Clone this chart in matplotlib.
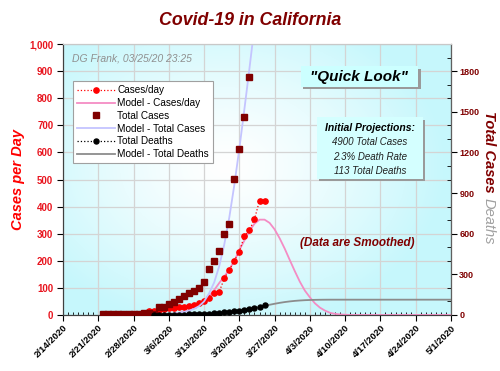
import numpy as np
import pandas as pd
import matplotlib
matplotlib.use("Agg")
import matplotlib.pyplot as plt
import matplotlib.dates as mdates
from matplotlib.ticker import MultipleLocator, FuncFormatter
from matplotlib.lines import Line2D
from matplotlib.patches import Rectangle
from matplotlib.transforms import offset_copy

plt.rcParams['font.family'] = ['Liberation Sans', 'DejaVu Sans']

# donnees
cases_dates = pd.date_range('2020-02-22', '2020-03-22')
total_cases = [5, 5, 6, 6, 7, 8, 9, 10, 11, 12, 10,
               57, 61, 79, 96, 116, 140, 160, 179, 201, 246, 337, 398, 470,
               600, 673, 1007, 1224, 1462, 1754]

perday_dates = pd.date_range('2020-03-02', '2020-03-25')
cases_per_day = [15, 14, 20, 22, 25, 27, 30, 31, 33, 38, 43, 53, 62, 82, 85,
                 135, 166, 200, 234, 292, 313, 354, 422, 422]

deaths_dates = pd.date_range('2020-03-03', '2020-03-25')
total_deaths = [1, 1, 1, 1, 1, 2, 3, 4, 4, 5, 7, 10, 12, 15, 20, 23, 27, 32,
                39, 45, 52, 60, 72]

# modeles
model_dates = pd.date_range('2020-03-03', '2020-05-01')
model_per_day = [1, 2, 3, 4, 5, 8, 12, 18, 26, 38, 52, 70, 92, 118, 142, 168,
                 200, 240, 275, 310, 337, 352, 352, 340, 316, 283, 245, 203,
                 162, 123, 90, 65, 43, 27, 16, 8, 4, 2, 1] + [0] * 21
model_deaths = [0, 0, 0, 0, 0.4, 0.5, 0.8, 1.3, 1.9, 2.8, 4.0, 5.7, 7.9, 10.7,
                14.1, 18.1, 22.8, 28.5, 35.1, 42.5, 50.5, 58.9, 67.2, 75.3,
                82.8, 89.6, 95.4, 100.2, 104.1, 107.0, 109.2, 110.7, 111.7,
                112.4, 112.8] + [113] * 25
model_cases_dates = pd.date_range('2020-03-03', '2020-03-23')
model_cases = [1, 2, 4, 6, 10, 15, 22, 32, 45, 65, 100, 160, 240, 360, 520,
               720, 960, 1230, 1520, 1820, 2130]

RED = '#ff0000'
DARKRED = '#800000'
PINK = '#f48cc4'
LAVENDER = '#c4c4ff'
GRAY = '#8c8c8c'

fig = plt.figure(figsize=(5, 3.71), dpi=100)
ax = fig.add_axes([0.126, 0.151, 0.776, 0.730])
ax2 = ax.twinx()

# fond en degrade
ny, nx = 200, 300
yy, xx = np.mgrid[0:1:ny * 1j, 0:1:nx * 1j]
r = np.sqrt(((xx - 0.42) / 0.75) ** 2 + ((yy - 0.55) / 0.8) ** 2)
t = np.clip(r / 0.75, 0, 1) ** 1.3
white = np.array([1.0, 1.0, 1.0])
cyan = np.array([0.78, 0.97, 0.99])
img = white[None, None, :] * (1 - t[..., None]) + cyan[None, None, :] * t[..., None]
ax.imshow(img, extent=[0, 1, 0, 1], transform=ax.transAxes, aspect='auto',
          origin='lower', zorder=0)

x0 = pd.Timestamp('2020-02-14')
x1 = pd.Timestamp('2020-05-01')
ax.set_xlim(x0, x1)
ax.set_ylim(0, 1000)
ax2.set_ylim(0, 2000)

ax.grid(True, color='#d4d4d4', linewidth=0.9, zorder=1)
ax.set_axisbelow(True)

# serie jour (axe gauche)
ax.plot(model_dates, model_per_day, color=PINK, linewidth=1.3, zorder=3)
ax.plot(perday_dates, cases_per_day, color=RED, linestyle=':', linewidth=0.9,
        marker='o', markersize=3.8, zorder=4)

# cumuls (axe droit)
ax2.plot(model_cases_dates, model_cases, color=LAVENDER, linewidth=1.3, zorder=2)
ax2.plot(model_dates, model_deaths, color=GRAY, linewidth=1.3, zorder=2)
ax2.plot(cases_dates, total_cases, color=DARKRED, linestyle='none',
         marker='s', markersize=4.6, zorder=3)
ax2.plot(deaths_dates, total_deaths, color='black', linestyle=':', linewidth=0.9,
         marker='o', markersize=3.6, zorder=4)

# axes
ticks = pd.date_range(x0, x1, freq='7D')
ax.set_xticks(ticks)
ax.set_xticklabels([f"{d.month}/{d.day}/{d.year}" for d in ticks],
                   rotation=45, ha='right', rotation_mode='anchor',
                   fontsize=6.8, fontweight='bold')
ax.xaxis.set_minor_locator(mdates.DayLocator())
ax.tick_params(axis='x', which='major', direction='out', length=4, pad=2)
ax.tick_params(axis='x', which='minor', direction='in', length=2.5)

ax.yaxis.set_major_locator(MultipleLocator(100))
ax.yaxis.set_major_formatter(FuncFormatter(lambda v, p: f"{int(v):,}"))
ax.tick_params(axis='y', direction='out', length=4, labelsize=7,
               labelcolor='#e8141e', pad=3)
for lab in ax.get_yticklabels():
    lab.set_fontweight('bold')

ax2.yaxis.set_major_locator(MultipleLocator(300))
ax2.yaxis.set_minor_locator(MultipleLocator(100))
ax2.tick_params(axis='y', which='major', direction='out', length=4,
                labelsize=6.5, labelcolor=DARKRED, pad=2)
ax2.tick_params(axis='y', which='minor', direction='in', length=3)
for lab in ax2.get_yticklabels():
    lab.set_fontweight('bold')

for sp in ['left', 'bottom']:
    ax.spines[sp].set_color('#404040')
ax.spines['top'].set_color('#c8c8c8')
ax2.spines['top'].set_color('#c8c8c8')
ax2.spines['right'].set_color('#606060')
ax2.spines['left'].set_color('#404040')
ax2.spines['bottom'].set_color('#404040')

# titres
fig.text(0.5, 0.946, 'Covid-19 in California', ha='center', va='center',
         fontsize=12.8, fontweight='bold', style='italic', color=DARKRED)
fig.text(0.036, 0.515, 'Cases per Day', ha='center', va='center', rotation=90,
         fontsize=10.5, fontweight='bold', style='italic', color=RED)
fig.text(0.978, 0.590, 'Total Cases', ha='center', va='center', rotation=-90,
         fontsize=10.5, fontweight='bold', style='italic', color=DARKRED)
fig.text(0.978, 0.403, 'Deaths', ha='center', va='center', rotation=-90,
         fontsize=10.5, style='italic', color='#a0a0a0')

# legende
handles = [
    Line2D([], [], color=RED, linestyle=':', marker='o', markersize=3.8, linewidth=0.9),
    Line2D([], [], color=PINK, linewidth=1.3),
    Line2D([], [], color=DARKRED, linestyle='none', marker='s', markersize=4.6),
    Line2D([], [], color=LAVENDER, linewidth=1.3),
    Line2D([], [], color='black', linestyle=':', marker='o', markersize=3.6, linewidth=0.9),
    Line2D([], [], color=GRAY, linewidth=1.3),
]
labels = ['Cases/day', 'Model - Cases/day', 'Total Cases', 'Model - Total Cases',
          'Total Deaths', 'Model - Total Deaths']
leg = ax2.legend(handles, labels, loc='upper left', bbox_to_anchor=(0.026, 0.863),
                 borderaxespad=0, fontsize=7.2, handlelength=3.8, handletextpad=0.2,
                 labelspacing=0.28, fancybox=False, framealpha=1,
                 edgecolor='#a0a0a0', borderpad=0.4)
leg.get_frame().set_linewidth(0.8)
leg.set_zorder(10)

# annotations
ax2.text(0.023, 0.948, 'DG Frank, 03/25/20 23:25', transform=ax2.transAxes,
         ha='left', va='center', fontsize=7.5, style='italic', color='#909090')

# boites avec ombre
shadow = offset_copy(ax2.transAxes, fig=fig, x=2.5, y=-2.5, units='dots')
for (bx, by, bw, bh, fc) in [(0.613, 0.842, 0.303, 0.077, '#ccffff'),
                             (0.654, 0.503, 0.273, 0.227, '#d4ffff')]:
    ax2.add_patch(Rectangle((bx, by), bw, bh, transform=shadow,
                            facecolor='#9a9a9a', edgecolor='none', zorder=8))
    ax2.add_patch(Rectangle((bx, by), bw, bh, transform=ax2.transAxes,
                            facecolor=fc, edgecolor='none', zorder=9))

ax2.text(0.764, 0.880, '"Quick Look"', transform=ax2.transAxes, ha='center',
         va='center', fontsize=11, fontweight='bold', style='italic',
         color='black', zorder=10)

ax2.text(0.791, 0.690, 'Initial Projections:', transform=ax2.transAxes,
         ha='center', va='center', fontsize=7.5, fontweight='bold',
         style='italic', color='black', zorder=10)
proj_lines = ['4900 Total Cases', '2.3% Death Rate', '113 Total Deaths']
for i, s in enumerate(proj_lines):
    ax2.text(0.791, 0.640 - i * 0.055, s, transform=ax2.transAxes,
             ha='center', va='center', fontsize=7, style='italic',
             color='#202020', zorder=10)

ax2.text(0.758, 0.266, '(Data are Smoothed)', transform=ax2.transAxes,
         ha='center', va='center', fontsize=8.5, fontweight='bold',
         style='italic', color=DARKRED, zorder=9)

fig.savefig('out.png', dpi=100)
